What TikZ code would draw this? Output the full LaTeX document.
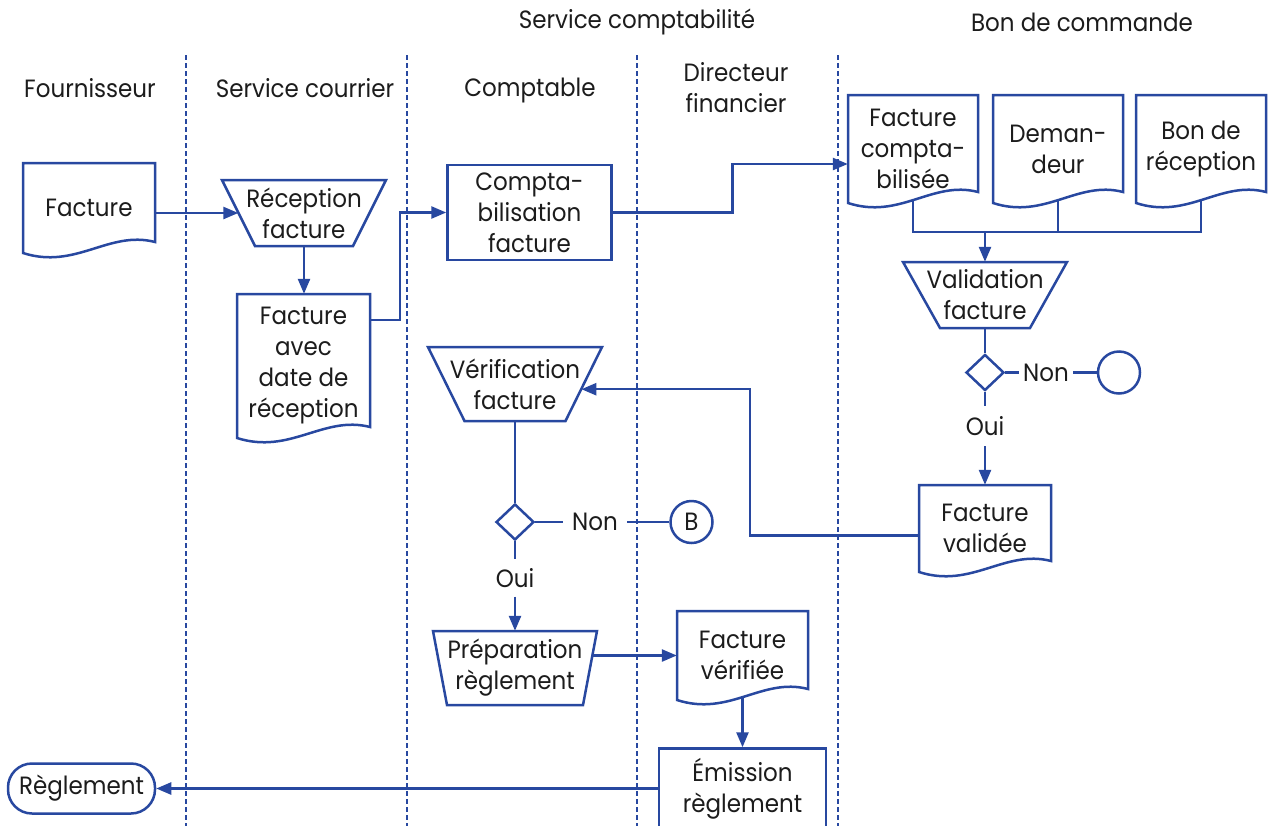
\documentclass[tikz,border=0pt]{standalone}
\usepackage{fontspec}
\setmainfont{Poppins}[FakeStretch=0.92]
\usetikzlibrary{arrows.meta,calc,shapes.geometric}
\definecolor{flow}{RGB}{40,72,160}
\definecolor{ink}{RGB}{28,28,28}

\tikzset{
  lbl/.style={text=ink, font=\fontsize{25}{31}\selectfont, align=center, inner sep=0pt},
  shp/.style={draw=flow, line width=2.5pt, line join=miter},
  ln/.style={draw=flow, line width=2.5pt},
  arr/.style={ln, -{Triangle[length=15pt,width=12pt]}},
  lane/.style={draw=flow, line width=2.4pt, dash pattern=on 5pt off 3pt},
  box/.style={lbl, shp},
  dia/.style={shp, diamond, aspect=1, minimum width=38pt, minimum height=36pt, inner sep=0pt},
  circ/.style={lbl, shp, circle, minimum size=42pt},
  term/.style={lbl, shp, rounded corners=24pt, minimum width=147pt, minimum height=50pt}
}

% document symbol: name, left, top, right, lower-left y, text
\newcommand\docnode[6]{%
  \node[lbl, minimum width={#4-#2}, minimum height={#5-#3}] (#1) at ({(#2+#4)/2},{(#3+#5)/2}) {#6};
  \draw[shp] (#2,#3) -- (#4,#3) -- (#4,{#5-11})
    .. controls ({#4-0.35*(#4-#2)},{#5-23}) and ({#2+0.4*(#4-#2)},{#5+17}) .. (#2,#5) -- cycle;}

% manual-operation trapezoid: name, left, top, right, bottom, inset, text
\newcommand\trapnode[7]{%
  \node[lbl, minimum width={#4-#2}, minimum height={#5-#3}] (#1) at ({(#2+#4)/2},{(#3+#5)/2}) {#7};
  \draw[shp] (#2,#3) -- (#4,#3) -- ({#4-#6},#5) -- ({#2+#6},#5) -- cycle;}

\begin{document}
\begin{tikzpicture}[x=1pt,y=-1pt]
\fill[white] (0,0) rectangle (1277,825);
\clip (0,0) rectangle (1277,825);

% lane headers
\node[lbl] (hFour) at (90,88) {Fournisseur};
\node[lbl] (hCour) at (305,88) {Service courrier};
\node[lbl] (hCpt) at (530,90) {Comptable};
\node[lbl] (hDir) at (736,88) {Directeur\\financier};
\node[lbl] (hServ) at (637,22) {Service comptabilité};
\node[lbl] (hBon) at (1082,22) {Bon de commande};

% lane separators
\foreach \x in {186,407,637,838}
  \draw[lane] (\x,55) -- (\x,826);

% shapes
\docnode{fac}{23}{163}{155}{253}{Facture}
\trapnode{rec}{222}{180}{386}{246}{33}{Réception\\facture}
\docnode{fad}{237}{294}{370}{438}{Facture\\avec\\date de\\réception}
\node[box, minimum width=164pt, minimum height=95pt] (cb) at (529.5,212.5) {Compta-\\bilisation\\facture};
\docnode{fc}{848}{95}{978}{203}{Facture\\compta-\\bilisée}
\docnode{dm}{993}{95}{1123}{203}{Deman-\\deur}
\docnode{br}{1136}{95}{1266}{203}{Bon de\\réception}
\trapnode{val}{903}{262}{1067}{328}{37}{Validation\\facture}
\node[dia] (d1) at (985,372.5) {};
\node[lbl, inner xsep=4pt] (non1) at (1046,372.5) {Non};
\node[circ] (c1) at (1119,372.5) {};
\node[lbl, minimum height=40pt] (oui1) at (985,426) {Oui};
\docnode{fv}{919}{485}{1051}{572}{Facture\\validée}
\trapnode{ver}{428}{347}{602}{421}{36.5}{Vérification\\facture}
\node[dia] (d2) at (515,522) {};
\node[lbl, inner xsep=9pt] (non2) at (595,522) {Non};
\node[circ] (c2) at (691.5,522) {B};
\node[lbl, minimum height=37pt] (oui2) at (515,578) {Oui};
\trapnode{prep}{433}{631}{597}{705}{14}{Préparation\\règlement}
\docnode{fvr}{677}{611}{808}{700}{Facture\\vérifiée}
\node[box, minimum width=167pt, minimum height=80pt] (em) at (742.5,788.5) {Émission\\règlement};
\node[term] (rg) at (81.5,788.5) {Règlement};

% connectors
\draw[arr] (fac.east |- rec.west) -- ($(rec.west)+(16.5,0)$);
\draw[arr] (rec.south) -- (rec.south |- fad.north);
\draw[arr] ($(fad.east)+(0,-46)$) -- +(30,0) |- (cb.west);
\coordinate (fcin) at ($(fc.west)+(0,15)$);
\draw[arr] (cb.east) -- +(119.5,0) |- (fcin);

\coordinate (m) at ($(val.north)+(0,-30)$);
\draw[ln] ($(fc.south)+(0,-4)$) -- (fc.south |- m) -- (br.south |- m) -- ($(br.south)+(0,-4)$);
\draw[ln] ($(dm.south)+(0,-4)$) -- (dm.south |- m);
\draw[arr] (m) -- (val.north);

\draw[ln] (val.south) -- (d1.north);
\draw[ln] (d1.south) -- (oui1.north);
\draw[arr] (oui1.south) -- (fv.north);
\draw[ln] (d1.east) -- (non1.west);
\draw[ln] (non1.east) -- (c1.west);

\coordinate (verin) at ($(ver.north east)!0.57!($(ver.south east)+(-36.5,0)$)$);
\draw[arr] ($(fv.west)+(0,7)$) -- +(-169,0) |- (verin);

\draw[ln] (ver.south) -- (d2.north);
\draw[ln] (d2.east) -- (non2.west);
\draw[ln] (non2.east) -- (c2.west);
\draw[ln] (d2.south) -- (oui2.north);
\draw[arr] (oui2.south) -- (prep.north);
\draw[arr] ($(prep.east |- fvr.west)+(-4.5,0)$) -- (fvr.west);
\draw[arr] ($(fvr.south)+(0,-4)$) -- (em.north);
\draw[arr] (em.west) -- (rg.east);
\end{tikzpicture}
\end{document}
